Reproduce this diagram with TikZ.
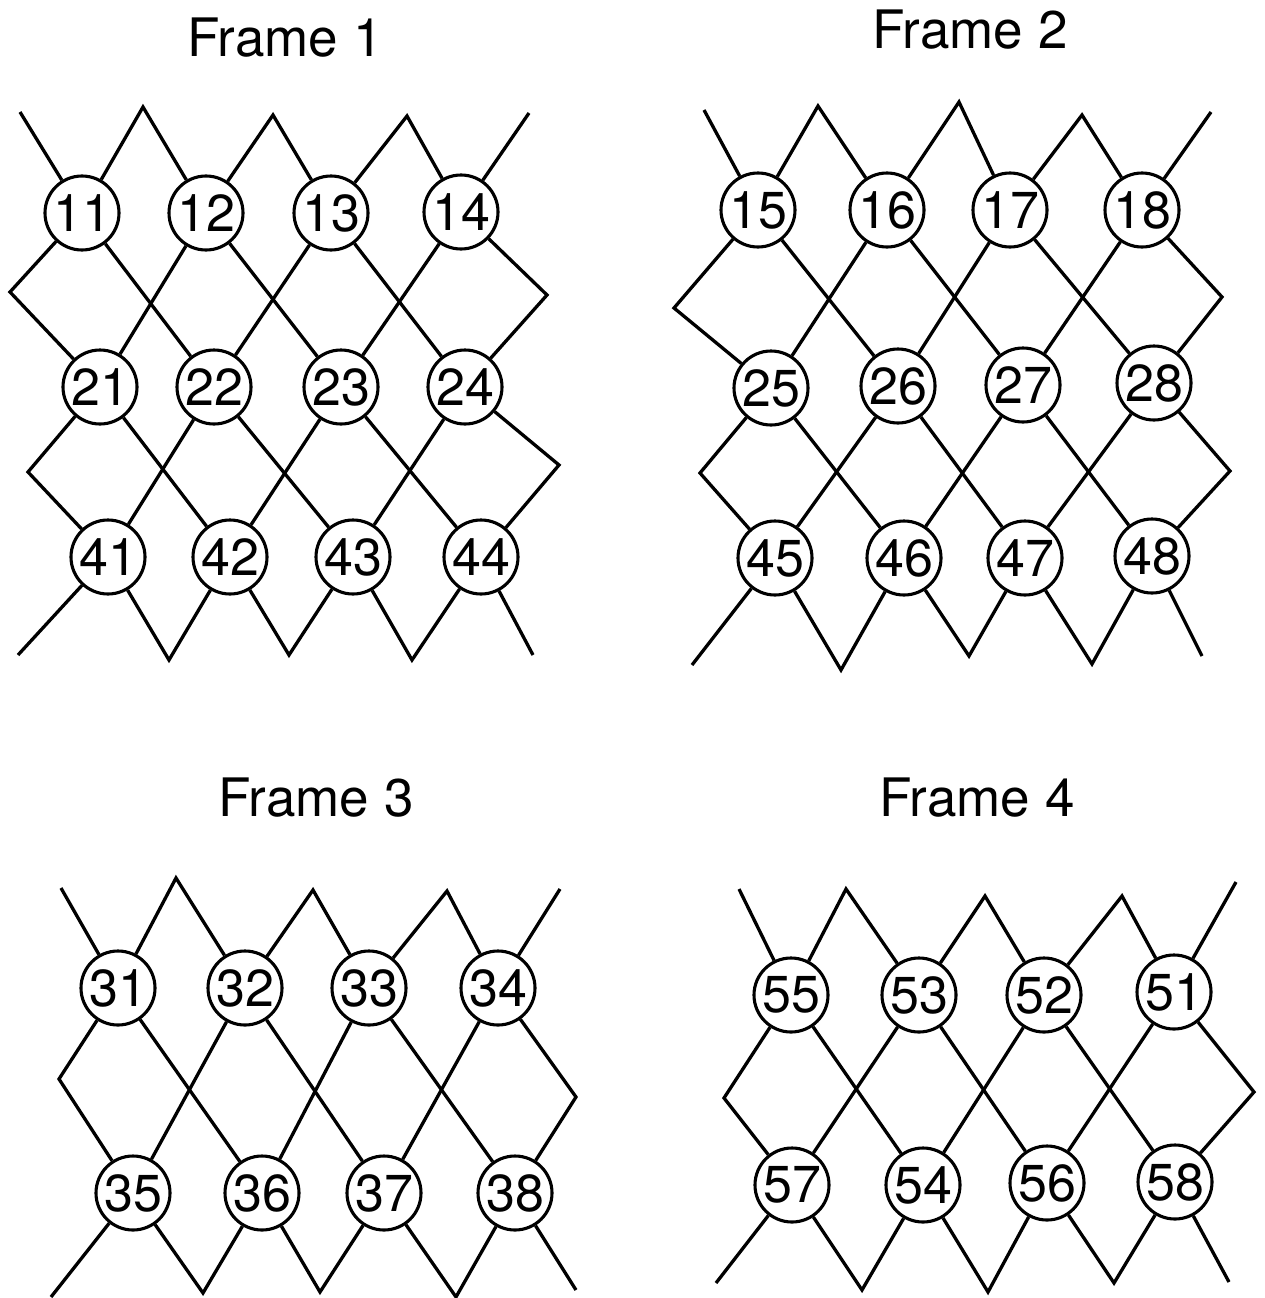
\documentclass[tikz,border=0pt]{standalone}
\usepackage{fontspec}
\setmainfont{TeX Gyre Heros}
\tikzset{
  cell/.style={draw,circle,line width=3.1pt,minimum size=74pt,inner sep=0pt,font=\fontsize{52}{54}\selectfont},
  wire/.style={line width=3.3pt},
  ftitle/.style={font=\fontsize{53}{58}\selectfont}
}
\begin{document}
\begin{tikzpicture}[x=1pt,y=-1pt]
\useasboundingbox (0,0) rectangle (1264,1298);
% Frame 1
\node[ftitle] (fA) at (285,38) {Frame 1};
\node[cell] (n11) at (82,213) {11};\node[cell] (n12) at (206,213) {12};\node[cell] (n13) at (331,213) {13};\node[cell] (n14) at (461,212) {14};
\node[cell] (n21) at (100,387) {21};\node[cell] (n22) at (214,387) {22};\node[cell] (n23) at (341,387) {23};\node[cell] (n24) at (465,387) {24};
\node[cell] (n41) at (108,557) {41};\node[cell] (n42) at (230,557) {42};\node[cell] (n43) at (353,557) {43};\node[cell] (n44) at (481,557) {44};
\coordinate (pA0) at (20,112);\coordinate (pA1) at (143,107);\coordinate (pA2) at (273,115);\coordinate (pA3) at (407,116);\coordinate (pA4) at (529,113);
\coordinate (lA1) at (10,292);\coordinate (lA2) at (28,472);\coordinate (rA1) at (547,295);\coordinate (rA2) at (559,465);
\coordinate (qA0) at (18,655);\coordinate (qA1) at (169,660);\coordinate (qA2) at (289,655);\coordinate (qA3) at (412,660);\coordinate (qA4) at (533,655);
\draw[wire] (pA0)--(n11);\draw[wire] (n11)--(pA1)--(n12);\draw[wire] (n12)--(pA2)--(n13);\draw[wire] (n13)--(pA3)--(n14);\draw[wire] (n14)--(pA4);
\draw[wire] (n11)--(lA1)--(n21);\draw[wire] (n14)--(rA1)--(n24);
\draw[wire] (n11)--(n22);\draw[wire] (n12)--(n21);\draw[wire] (n12)--(n23);\draw[wire] (n13)--(n22);\draw[wire] (n13)--(n24);\draw[wire] (n14)--(n23);
\draw[wire] (n21)--(lA2)--(n41);\draw[wire] (n24)--(rA2)--(n44);
\draw[wire] (n21)--(n42);\draw[wire] (n22)--(n41);\draw[wire] (n22)--(n43);\draw[wire] (n23)--(n42);\draw[wire] (n23)--(n44);\draw[wire] (n24)--(n43);
\draw[wire] (n41)--(qA0);\draw[wire] (n41)--(qA1)--(n42);\draw[wire] (n42)--(qA2)--(n43);\draw[wire] (n43)--(qA3)--(n44);\draw[wire] (n44)--(qA4);
% Frame 2
\node[ftitle] (fB) at (970,30) {Frame 2};
\node[cell] (n15) at (758,210) {15};\node[cell] (n16) at (887,210) {16};\node[cell] (n17) at (1010,210) {17};\node[cell] (n18) at (1142,210) {18};
\node[cell] (n25) at (771,388) {25};\node[cell] (n26) at (898,386) {26};\node[cell] (n27) at (1023,385) {27};\node[cell] (n28) at (1154,383) {28};
\node[cell] (n45) at (775,558) {45};\node[cell] (n46) at (904,558) {46};\node[cell] (n47) at (1025,558) {47};\node[cell] (n48) at (1152,556) {48};
\coordinate (pB0) at (704,110);\coordinate (pB1) at (818,106);\coordinate (pB2) at (959,102);\coordinate (pB3) at (1082,115);\coordinate (pB4) at (1211,112);
\coordinate (lB1) at (674,308);\coordinate (lB2) at (700,473);\coordinate (rB1) at (1222,297);\coordinate (rB2) at (1230,471);
\coordinate (qB0) at (692,665);\coordinate (qB1) at (841,670);\coordinate (qB2) at (969,656);\coordinate (qB3) at (1092,664);\coordinate (qB4) at (1202,656);
\draw[wire] (pB0)--(n15);\draw[wire] (n15)--(pB1)--(n16);\draw[wire] (n16)--(pB2)--(n17);\draw[wire] (n17)--(pB3)--(n18);\draw[wire] (n18)--(pB4);
\draw[wire] (n15)--(lB1)--(n25);\draw[wire] (n18)--(rB1)--(n28);
\draw[wire] (n15)--(n26);\draw[wire] (n16)--(n25);\draw[wire] (n16)--(n27);\draw[wire] (n17)--(n26);\draw[wire] (n17)--(n28);\draw[wire] (n18)--(n27);
\draw[wire] (n25)--(lB2)--(n45);\draw[wire] (n28)--(rB2)--(n48);
\draw[wire] (n25)--(n46);\draw[wire] (n26)--(n45);\draw[wire] (n26)--(n47);\draw[wire] (n27)--(n46);\draw[wire] (n27)--(n48);\draw[wire] (n28)--(n47);
\draw[wire] (n45)--(qB0);\draw[wire] (n45)--(qB1)--(n46);\draw[wire] (n46)--(qB2)--(n47);\draw[wire] (n47)--(qB3)--(n48);\draw[wire] (n48)--(qB4);
% Frame 3
\node[ftitle] (fC) at (316,798) {Frame 3};
\node[cell] (n31) at (118,988) {31};\node[cell] (n32) at (245,988) {32};\node[cell] (n33) at (369,988) {33};\node[cell] (n34) at (498,988) {34};
\node[cell] (n35) at (133,1193) {35};\node[cell] (n36) at (262,1193) {36};\node[cell] (n37) at (384,1193) {37};\node[cell] (n38) at (515,1193) {38};
\coordinate (pC0) at (61,888);\coordinate (pC1) at (176,878);\coordinate (pC2) at (313,890);\coordinate (pC3) at (447,891);\coordinate (pC4) at (560,889);
\coordinate (lC1) at (59,1079);\coordinate (rC1) at (576,1097);
\coordinate (qC0) at (51,1297);\coordinate (qC1) at (203,1293);\coordinate (qC2) at (320,1292);\coordinate (qC3) at (456,1297);\coordinate (qC4) at (576,1290);
\draw[wire] (pC0)--(n31);\draw[wire] (n31)--(pC1)--(n32);\draw[wire] (n32)--(pC2)--(n33);\draw[wire] (n33)--(pC3)--(n34);\draw[wire] (n34)--(pC4);
\draw[wire] (n31)--(lC1)--(n35);\draw[wire] (n34)--(rC1)--(n38);
\draw[wire] (n31)--(n36);\draw[wire] (n32)--(n35);\draw[wire] (n32)--(n37);\draw[wire] (n33)--(n36);\draw[wire] (n33)--(n38);\draw[wire] (n34)--(n37);
\draw[wire] (n35)--(qC0);\draw[wire] (n35)--(qC1)--(n36);\draw[wire] (n36)--(qC2)--(n37);\draw[wire] (n37)--(qC3)--(n38);\draw[wire] (n38)--(qC4);
% Frame 4
\node[ftitle] (fD) at (977,798) {Frame 4};
\node[cell] (n55) at (791,995) {55};\node[cell] (n53) at (919,995) {53};\node[cell] (n52) at (1044,995) {52};\node[cell] (n51) at (1174,992) {51};
\node[cell] (n57) at (792,1185) {57};\node[cell] (n54) at (923,1185) {54};\node[cell] (n56) at (1047,1183) {56};\node[cell] (n58) at (1175,1182) {58};
\coordinate (pD0) at (739,889);\coordinate (pD1) at (846,889);\coordinate (pD2) at (985,896);\coordinate (pD3) at (1122,896);\coordinate (pD4) at (1236,882);
\coordinate (lD1) at (724,1098);\coordinate (rD1) at (1254,1092);
\coordinate (qD0) at (716,1283);\coordinate (qD1) at (862,1290);\coordinate (qD2) at (988,1292);\coordinate (qD3) at (1114,1283);\coordinate (qD4) at (1229,1282);
\draw[wire] (pD0)--(n55);\draw[wire] (n55)--(pD1)--(n53);\draw[wire] (n53)--(pD2)--(n52);\draw[wire] (n52)--(pD3)--(n51);\draw[wire] (n51)--(pD4);
\draw[wire] (n55)--(lD1)--(n57);\draw[wire] (n51)--(rD1)--(n58);
\draw[wire] (n55)--(n54);\draw[wire] (n53)--(n57);\draw[wire] (n53)--(n56);\draw[wire] (n52)--(n54);\draw[wire] (n52)--(n58);\draw[wire] (n51)--(n56);
\draw[wire] (n57)--(qD0);\draw[wire] (n57)--(qD1)--(n54);\draw[wire] (n54)--(qD2)--(n56);\draw[wire] (n56)--(qD3)--(n58);\draw[wire] (n58)--(qD4);
\end{tikzpicture}
\end{document}
